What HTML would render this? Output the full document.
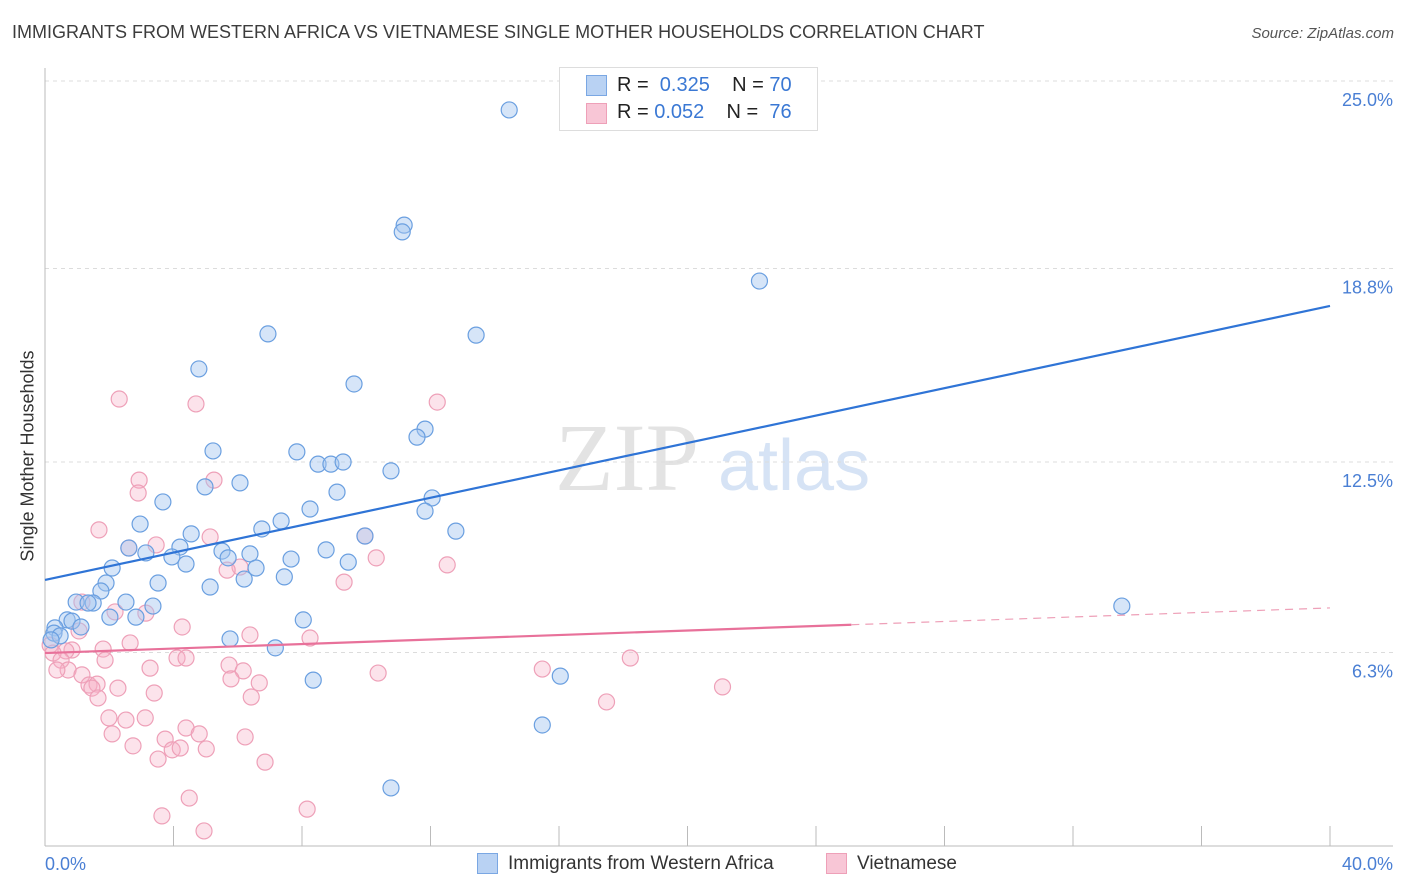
<!DOCTYPE html>
<html><head><meta charset="utf-8"><style>
body{margin:0;background:#fff;font-family:"Liberation Sans",sans-serif}
#wrap{position:relative;width:1406px;height:892px;overflow:hidden}
.t{position:absolute;white-space:nowrap}
</style></head><body>
<div id="wrap">
<div class="t" style="left:12px;top:22px;font-size:18px;color:#3c3c3c">IMMIGRANTS FROM WESTERN AFRICA VS VIETNAMESE SINGLE MOTHER HOUSEHOLDS CORRELATION CHART</div>
<div class="t" style="right:12px;top:25px;font-size:15px;color:#555;font-style:italic">Source: ZipAtlas.com</div>
<svg id="svg" width="1406" height="892" style="position:absolute;left:0;top:0">
<text x="555" y="490" font-family="Liberation Serif,serif" font-size="96" fill="#e3e3e3">ZIP</text>
<text x="718" y="490" font-family="Liberation Sans,sans-serif" font-size="72" fill="#d6e3f5">atlas</text>
</svg>
<div class="t" style="left:28px;top:456px;font-size:18px;color:#333;transform:translate(-50%,-50%) rotate(-90deg)">Single Mother Households</div>
<div style="position:absolute;left:559px;top:67px;width:257px;height:62px;border:1px solid #ddd;background:#fff"></div>
<div style="position:absolute;left:586px;top:75px;width:19px;height:19px;background:#b9d2f3;border:1px solid #7aa7e3"></div>
<div style="position:absolute;left:586px;top:103px;width:19px;height:19px;background:#f8c6d6;border:1px solid #eea0b8"></div>
<div class="t" style="left:617px;top:74px;font-size:20px;color:#222">R = <span style="color:#3a78d4">&nbsp;0.325</span>&nbsp;&nbsp;&nbsp; N = <span style="color:#3a78d4">70</span></div>
<div class="t" style="left:617px;top:101px;font-size:20px;color:#222">R = <span style="color:#3a78d4">0.052</span>&nbsp;&nbsp;&nbsp; N = <span style="color:#3a78d4">&nbsp;76</span></div>
<div style="position:absolute;left:477px;top:853px;width:19px;height:19px;background:#b9d2f3;border:1px solid #7aa7e3"></div>
<div class="t" style="left:508px;top:853px;font-size:19px;color:#333">Immigrants from Western Africa</div>
<div style="position:absolute;left:826px;top:853px;width:19px;height:19px;background:#f8c6d6;border:1px solid #eea0b8"></div>
<div class="t" style="left:857px;top:853px;font-size:19px;color:#333">Vietnamese</div>
</div>
<script>
const yTicks=[25.0,18.8,12.5,6.3];
const yTickLabels=["25.0%","18.8%","12.5%","6.3%"];
const xTickLabels=["0.0%","40.0%"];
const blueX=[14.45,11.18,11.12,22.24,6.94,13.42,4.79,9.62,11.83,11.58,5.23,7.84,8.50,8.90,9.28,10.77,4.98,6.07,9.09,3.67,12.05,8.25,11.83,2.96,7.35,6.75,12.79,4.55,9.96,4.20,2.61,8.75,5.51,3.95,3.14,6.38,5.70,4.39,7.66,9.44,2.09,6.57,7.45,6.20,3.52,1.90,5.14,1.74,2.52,3.36,0.97,1.50,1.34,2.02,2.83,0.69,0.84,1.12,8.04,0.31,0.28,0.47,0.19,5.76,7.17,16.04,8.35,15.48,10.77,33.52];
const blueY=[23.96,20.21,19.99,18.39,16.67,16.63,15.53,15.04,13.57,13.31,12.86,12.83,12.43,12.43,12.50,12.21,11.69,11.82,11.52,11.20,11.33,10.97,10.90,10.48,10.58,10.32,10.25,10.16,10.09,9.73,9.70,9.64,9.60,9.41,9.54,9.51,9.38,9.18,9.34,9.24,9.05,9.05,8.76,8.69,8.56,8.56,8.43,8.30,7.94,7.81,7.94,7.91,7.91,7.45,7.45,7.36,7.32,7.13,7.36,7.10,6.93,6.84,6.71,6.74,6.45,5.53,5.40,3.94,1.89,7.81];
const pinkX=[2.31,4.70,12.21,2.93,5.26,2.90,1.68,2.61,3.46,5.14,9.96,10.31,6.07,5.67,12.52,9.31,2.18,3.14,1.15,1.06,4.27,6.38,8.25,2.65,0.84,0.65,1.81,0.16,0.25,0.50,1.87,0.72,0.37,3.27,4.11,4.39,5.73,6.17,10.37,15.48,18.22,1.15,1.37,1.62,1.46,2.27,5.79,6.67,3.40,21.09,1.65,6.42,17.48,1.99,2.52,3.12,4.39,2.09,4.80,3.74,6.23,2.74,3.96,4.21,5.02,3.52,6.85,4.49,3.64,8.16,4.95];
const pinkY=[14.55,14.39,14.45,11.91,11.91,11.49,10.29,9.70,9.80,10.06,10.09,9.38,9.08,8.98,9.15,8.59,7.62,7.58,7.94,7.00,7.13,6.87,6.77,6.61,6.38,6.35,6.41,6.54,6.28,6.05,6.05,5.73,5.73,5.79,6.12,6.12,5.89,5.70,5.63,5.76,6.12,5.57,5.24,5.27,5.14,5.14,5.44,5.31,4.98,5.18,4.82,4.85,4.69,4.17,4.10,4.17,3.84,3.65,3.65,3.48,3.55,3.26,3.13,3.19,3.16,2.83,2.73,1.56,0.98,1.20,0.49];
const blueTrend=[8.66,17.58];
const pinkTrend=[6.28,7.75];
const pinkSolidEnd=25.1;

const X0=45,X1=1330,Y0=846,PPU=30.72;
const sx=v=>X0+(v/40)*(X1-X0);
const sy=v=>Y0-v*PPU;
const svg=document.getElementById('svg');
const NS='http://www.w3.org/2000/svg';
function mk(t,a){const e=document.createElementNS(NS,t);for(const k in a)e.setAttribute(k,a[k]);svg.appendChild(e);return e;}
yTicks.forEach((v,i)=>{
 const g=mk('line',{x1:X0,x2:1393,y1:sy(v)+ (i==0?3:0),y2:sy(v)+(i==0?3:0),stroke:'#dcdcdc','stroke-dasharray':'4,4'});
 
 
 const t=mk('text',{x:1393,y:sy(v)+(i==0?3:0)+25,'text-anchor':'end','font-size':18,fill:'#4a7fd4'});
 t.textContent=yTickLabels[i];
 
 
});
const ax=mk('line',{x1:X0,x2:X0,y1:68,y2:Y0,stroke:'#bbb'});


const bx=mk('line',{x1:X0,x2:1393,y1:Y0,y2:Y0,stroke:'#bbb'});


for(let i=0;i<=10;i++){
 const tk=mk('line',{x1:sx(i*4),x2:sx(i*4),y1:826,y2:Y0,stroke:'#bbb'});
 
 
}
const xl0=mk('text',{x:45,y:870,'font-size':18,fill:'#4a7fd4'});xl0.textContent=xTickLabels[0];


const xl1=mk('text',{x:1393,y:870,'text-anchor':'end','font-size':18,fill:'#4a7fd4'});xl1.textContent=xTickLabels[1];


pinkX.forEach((x,i)=>{
 const c=mk('circle',{cx:sx(x),cy:sy(pinkY[i]),r:8,fill:'rgba(245,175,198,0.35)',stroke:'#eea0b8','stroke-width':1.2});
 
 
});
blueX.forEach((x,i)=>{
 const c=mk('circle',{cx:sx(x),cy:sy(blueY[i]),r:8,fill:'rgba(165,198,240,0.45)',stroke:'#6a9fe0','stroke-width':1.2});
 
 
});
const bl=mk('line',{x1:sx(0),y1:sy(blueTrend[0]),x2:sx(40),y2:sy(blueTrend[1]),stroke:'#2f74d6','stroke-width':2.2});


const pm=pinkTrend[0]+(pinkTrend[1]-pinkTrend[0])*pinkSolidEnd/40;
const pl=mk('line',{x1:sx(0),y1:sy(pinkTrend[0]),x2:sx(pinkSolidEnd),y2:sy(pm),stroke:'#e8719a','stroke-width':2.2});


const pd=mk('line',{x1:sx(pinkSolidEnd),y1:sy(pm),x2:sx(40),y2:sy(pinkTrend[1]),stroke:'#eea0b8','stroke-width':1.2,'stroke-dasharray':'8,6'});


</script>
</body></html>
